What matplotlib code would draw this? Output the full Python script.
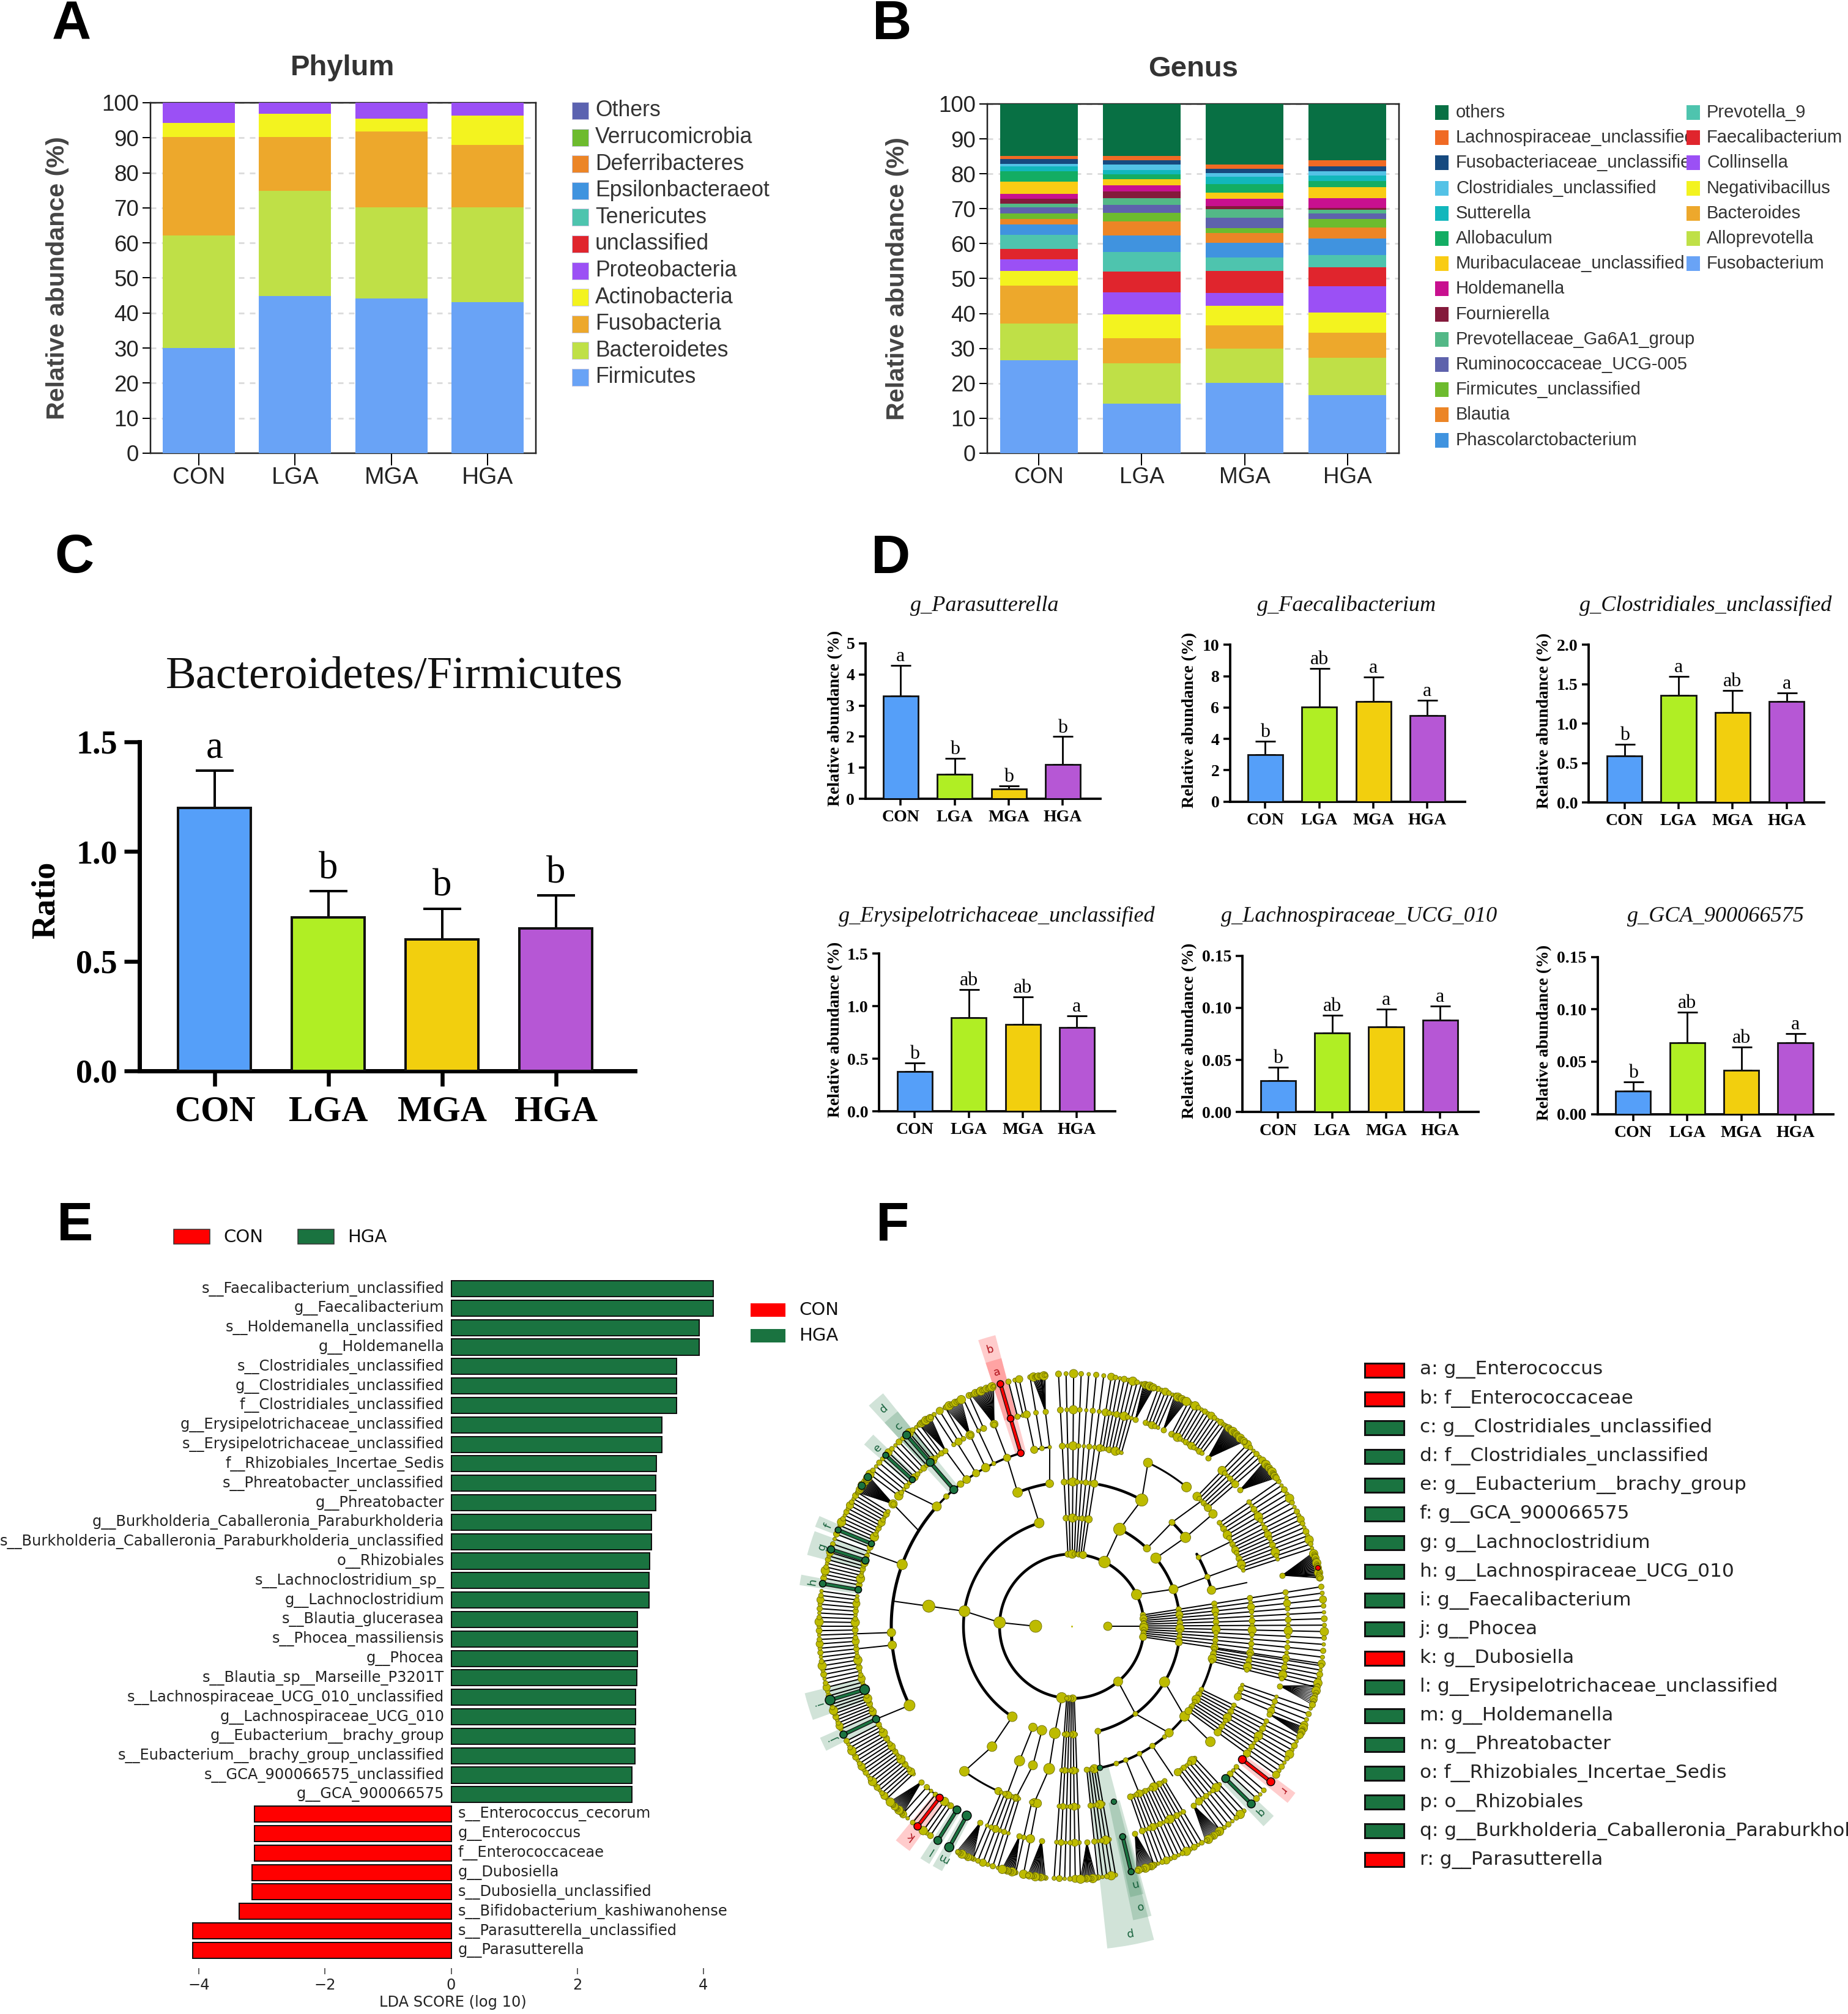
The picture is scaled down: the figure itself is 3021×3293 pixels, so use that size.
import numpy as np
import matplotlib
matplotlib.use("Agg")
import matplotlib.pyplot as plt
from matplotlib.patches import Rectangle
from matplotlib.transforms import Bbox

W, H = 3021, 3293
DPI = 100
PX = 72 / DPI
SANS = "Liberation Sans"
SERIF = "Liberation Serif"
DEJA = "DejaVu Sans"

groups = ["CON", "LGA", "MGA", "HGA"]

# ---------- Panel A
phylum_legend = ["Others", "Verrucomicrobia", "Deferribacteres", "Epsilonbacteraeot", "Tenericutes", "unclassified",
                 "Proteobacteria", "Actinobacteria", "Fusobacteria", "Bacteroidetes", "Firmicutes"]
phylum_colors = ["#5B62B0", "#6DBB2E", "#EC8526", "#4093DF", "#4EC4AE", "#E0252D",
                 "#9B50F5", "#F3F31F", "#EDA82C", "#BFE047", "#69A3F6"]
firmicutes = [30.1, 44.8, 44.2, 43.1]
bacteroidetes = [32.0, 30.0, 26.0, 27.0]
fusobacteria = [28.2, 15.4, 21.6, 17.8]
actinobacteria = [3.9, 6.6, 3.6, 8.4]
proteobacteria = [5.8, 3.2, 4.6, 3.7]

# ---------- Panel B
genus_left = ["others", "Lachnospiraceae_unclassified", "Fusobacteriaceae_unclassified", "Clostridiales_unclassified",
              "Sutterella", "Allobaculum", "Muribaculaceae_unclassified", "Holdemanella", "Fournierella",
              "Prevotellaceae_Ga6A1_group", "Ruminococcaceae_UCG-005", "Firmicutes_unclassified", "Blautia",
              "Phascolarctobacterium"]
genus_right = ["Prevotella_9", "Faecalibacterium", "Collinsella", "Negativibacillus", "Bacteroides",
               "Alloprevotella", "Fusobacterium"]
genus_left_colors = ["#087044", "#F06A24", "#164A7F", "#53C2E6", "#12B7BC", "#13AD63", "#F9CC14", "#C8108F", "#841A3B",
                     "#53B887", "#5E62AC", "#6DBB2E", "#EC8526", "#4093DF"]
genus_right_colors = ["#4EC4AE", "#E0252D", "#9B50F5", "#F3F31F", "#EDA82C", "#BFE047", "#69A3F6"]
tops_con = [26.6, 37.2, 48.0, 52.2, 55.5, 58.5, 62.5, 65.5, 67.1, 68.6, 70.4, 71.4, 72.9, 74.2, 77.8, 80.7, 82.2, 82.8, 84.2, 85.1, 100]
tops_lga = [14.2, 25.8, 32.9, 39.7, 46.0, 52.0, 57.7, 62.3, 66.3, 68.8, 71.1, 73.1, 75.0, 76.7, 78.4, 79.8, 81.1, 82.6, 83.9, 85.1, 100]
tops_mga = [20.1, 29.9, 36.6, 42.2, 45.8, 52.2, 56.1, 60.2, 63.0, 64.5, 67.5, 69.8, 70.8, 72.9, 74.6, 77.0, 79.2, 80.2, 81.5, 82.6, 100]
tops_hga = [16.6, 27.4, 34.5, 40.2, 47.8, 53.3, 56.8, 61.4, 64.6, 67.1, 68.7, 69.7, 70.2, 73.1, 76.1, 78.0, 79.5, 80.8, 82.1, 83.9, 100]

# ---------- Panel C
bar_colors = ["#559FF9", "#B0EE24", "#F2CF0E", "#B657D5"]
ratio_mean = [1.2, 0.7, 0.6, 0.65]
ratio_top = [1.37, 0.82, 0.74, 0.80]
ratio_sig = ["a", "b", "b", "b"]

# ---------- Panel D
d_titles = ["g_Parasutterella", "g_Faecalibacterium", "g_Clostridiales_unclassified",
            "g_Erysipelotrichaceae_unclassified", "g_Lachnospiraceae_UCG_010", "g_GCA_900066575"]
d_means = [[3.3, 0.8, 0.32, 1.1], [3.0, 6.05, 6.4, 5.5], [0.59, 1.36, 1.14, 1.28],
           [0.38, 0.89, 0.83, 0.80], [0.03, 0.076, 0.082, 0.088], [0.022, 0.068, 0.042, 0.068]]
d_tops = [[4.28, 1.3, 0.41, 2.0], [3.85, 8.5, 7.95, 6.45], [0.74, 1.6, 1.42, 1.39],
          [0.46, 1.16, 1.09, 0.91], [0.043, 0.093, 0.099, 0.102], [0.031, 0.097, 0.064, 0.077]]
d_sig = [["a", "b", "b", "b"], ["b", "ab", "a", "a"], ["b", "a", "ab", "a"],
         ["b", "ab", "ab", "a"], ["b", "ab", "a", "a"], ["b", "ab", "ab", "a"]]
d_ymax = [5, 10, 2.0, 1.5, 0.15, 0.15]
d_ticks = [[0, 1, 2, 3, 4, 5], [0, 2, 4, 6, 8, 10], [0, .5, 1, 1.5, 2], [0, .5, 1, 1.5], [0, .05, .10, .15], [0, .05, .10, .15]]
d_ticklabels = [["0", "1", "2", "3", "4", "5"], ["0", "2", "4", "6", "8", "10"], ["0.0", "0.5", "1.0", "1.5", "2.0"],
                ["0.0", "0.5", "1.0", "1.5"], ["0.00", "0.05", "0.10", "0.15"], ["0.00", "0.05", "0.10", "0.15"]]

# ---------- Panel E
lda_names = ["s__Faecalibacterium_unclassified", "g__Faecalibacterium", "s__Holdemanella_unclassified", "g__Holdemanella",
             "s__Clostridiales_unclassified", "g__Clostridiales_unclassified", "f__Clostridiales_unclassified",
             "g__Erysipelotrichaceae_unclassified", "s__Erysipelotrichaceae_unclassified", "f__Rhizobiales_Incertae_Sedis",
             "s__Phreatobacter_unclassified", "g__Phreatobacter", "g__Burkholderia_Caballeronia_Paraburkholderia",
             "s__Burkholderia_Caballeronia_Paraburkholderia_unclassified", "o__Rhizobiales", "s__Lachnoclostridium_sp_",
             "g__Lachnoclostridium", "s__Blautia_glucerasea", "s__Phocea_massiliensis", "g__Phocea",
             "s__Blautia_sp__Marseille_P3201T", "s__Lachnospiraceae_UCG_010_unclassified", "g__Lachnospiraceae_UCG_010",
             "g__Eubacterium__brachy_group", "s__Eubacterium__brachy_group_unclassified", "s__GCA_900066575_unclassified",
             "g__GCA_900066575", "s__Enterococcus_cecorum", "g__Enterococcus", "f__Enterococcaceae", "g__Dubosiella",
             "s__Dubosiella_unclassified", "s__Bifidobacterium_kashiwanohense", "s__Parasutterella_unclassified",
             "g__Parasutterella"]
lda_scores = [4.16, 4.16, 3.93, 3.93, 3.57, 3.57, 3.57, 3.34, 3.34, 3.25, 3.24, 3.24, 3.18, 3.18, 3.15, 3.14, 3.14,
              2.95, 2.95, 2.95, 2.94, 2.92, 2.92, 2.91, 2.91, 2.87, 2.87,
              -3.12, -3.12, -3.12, -3.16, -3.16, -3.36, -4.10, -4.10]
RED, GREEN = "#FF0000", "#1A7340"

# ---------- Panel F legend
clade_legend = ["a: g__Enterococcus", "b: f__Enterococcaceae", "c: g__Clostridiales_unclassified",
                "d: f__Clostridiales_unclassified", "e: g__Eubacterium__brachy_group", "f: g__GCA_900066575",
                "g: g__Lachnoclostridium", "h: g__Lachnospiraceae_UCG_010", "i: g__Faecalibacterium", "j: g__Phocea",
                "k: g__Dubosiella", "l: g__Erysipelotrichaceae_unclassified", "m: g__Holdemanella", "n: g__Phreatobacter",
                "o: f__Rhizobiales_Incertae_Sedis", "p: o__Rhizobiales", "q: g__Burkholderia_Caballeronia_Paraburkholderia",
                "r: g__Parasutterella"]
clade_is_red = [1, 1, 0, 0, 0, 0, 0, 0, 0, 0, 1, 0, 0, 0, 0, 0, 0, 1]

# ---------- Panel F tree (ring index, angle in degrees, dot diameter in px)
tree_nodes = [
    (1, 180, 20), (1, 0, 14),
    (2, 177, 19), (2, 0, 14), (2, 63, 19), (2, 26, 17), (2, -50, 15), (2, 262, 17),
    (3, 172, 18), (3, 107.5, 16), (3, 63.7, 20), (3, 46, 12), (3, 39, 17), (3, 20, 15), (3, -31, 17),
    (3, 236.7, 16), (3, 249, 14), (3, 254, 16), (3, 261, 18), (3, -54, 8), (3, -76, 10),
    (4, 172, 20), (4, 112, 16), (4, 98.8, 13), (4, 61, 20), (4, 46, 10), (4, 38, 17), (4, 28.5, 8), (4, 20, 9),
    (4, 14.5, 14), (4, 236.5, 16), (4, 248.8, 17), (4, 254.4, 15), (4, 261, 18), (4, -38.6, 16), (4, -47.6, 14),
    (4, -50, 7), (4, -56, 9), (4, -62, 8), (4, -68, 8), (4, -72, 8),
    (5, 160, 17), (5, 182, 14), (5, 186, 14), (5, 206, 18), (5, 138.4, 15), (5, 134, 9), (5, 128, 11), (5, 125.6, 13),
    (5, 122, 12), (5, 118.5, 14), (5, 115.6, 7), (5, 111, 12), (5, 233.5, 16), (5, -39.8, 16), (5, 65, 15), (5, 50.5, 16),
    (5, 38.5, 14), (5, 258, 14), (5, 252, 12), (5, 249, 12), (5, 246, 12),
    (6, 145.6, 14), (6, 111, 13), (6, 118, 14), (6, 115.5, 7),
]
tree_edges = [
    (1, 180, 2, 177), (1, 0, 2, 0), (2, 177, 3, 172), (3, 172, 4, 172), (4, 172, 5, 172),
    (3, 107.5, 4, 107.5), (4, 112, 5, 111), (4, 98.8, 5, 97), (2, 63, 3, 63.7), (3, 63.7, 4, 61), (4, 61, 5, 65),
    (3, 46, 4, 46), (3, 39, 4, 38), (2, 26, 3, 20), (3, 20, 4, 20), (2, -50, 3, -54), (3, -31, 4, -38.6),
    (3, -54, 4, -47.6), (3, -76, 4, -78.7), (4, -38.6, 5, -39.8), (2, 262, 3, 261), (3, 236.7, 4, 236.5),
    (4, 236.5, 5, 233.5), (3, 249, 4, 248.8), (3, 254, 4, 254.4), (3, 261, 4, 261),
    (4, 248.8, 5, 249), (4, 254.4, 5, 252), (4, 261, 5, 258), (4, 38, 5, 38.5), (4, 46, 5, 44), (4, 28.5, 5, 28),
    (4, 20, 5, 20), (4, 14.5, 5, 14), (4, -56, 5, -56), (4, -62, 5, -62), (4, -68, 5, -68),
    (5, 160, 6, 160), (5, 182, 6, 182), (5, 186, 6, 186), (5, 206, 6, 205.4), (5, 138.4, 6, 141), (5, 111, 6, 111),
    (5, 118.5, 6, 118), (5, 115.6, 6, 115.5), (5, 125.6, 6, 125.7), (5, 122, 6, 122),
    (6, 145.6, 5, 148),
]
tree_arcs = [  # ring, from, to, linewidth in px
    (2, 93, 262, 4.5), (2, 81, -97, 4.5), (3, 107.5, 236.7, 4.5), (3, 63.7, 46, 4.5), (3, 39, -31, 4.5), (3, -31, -76, 4.5),
    (4, 112, 98.8, 4.5), (4, 79, 61, 4.5), (4, 46, 38, 4.5), (4, 30, 14.5, 4.5), (4, -5, -38.6, 4), (4, -38.6, -78.7, 4),
    (5, 106.8, 138.4, 3.5), (5, 138.4, 206, 5), (5, 65, 50.5, 3), (5, 233.5, 245, 3),
]
# fixed-angle leaf groups: first angle, last angle, leaf count, inner ring
leaf_groups = [
    (104.5, 103, 2, 6), (102, 97, 3, 5), (93, 81, 8, 2), (80, 74, 7, 5), (70, 66.5, 5, 6), (62.5, 53, 12, 6),
    (46, 41, 6, 5), (35, 27, 8, 5), (26, 18, 9, 5), (9, -8.5, 13, 2), (-9, -14, 6, 4), (-19, -23, 4, 5), (-26, -36, 10, 4),
    (-40.5, -43, 3, 6), (-47, -54, 7, 5), (-59, -71, 13, 5), (-80, -84, 5, 4), (-88, -94, 6, 2), (259, 257.2, 2, 5),
    (253, 247, 6, 5), (236, 234, 3, 6), (231, 228, 3, 6), (223, 207, 20, 6), (204, 198, 9, 6), (196, 172, 25, 6),
    (169, 163, 8, 6), (161, 158.6, 3, 6), (156.5, 148, 11, 6), (143, 138.5, 5, 6), (136.5, 132, 5, 6), (130, 127, 4, 6),
    (123, 120, 3, 6), (115.5, 114, 2, 6),
]
# fans: parent angle on ring 6, first and last leaf angle, leaf count
leaf_fans = [
    (97, 99, 96, 14), (72.9, 73.5, 71, 14), (65, 66, 63, 14), (51, 52.5, 47, 26), (39, 40.5, 36, 22), (13.6, 17, 11, 28),
    (-16, -13.5, -18, 12), (-24, -23.5, -25.5, 10), (-55.8, -54, -58, 14), (-73, -71, -75, 14), (-86, -84.5, -88, 14),
    (262, 264, 260, 16), (256, 257, 254, 14), (245, 247, 243, 14), (226, 228, 224, 16), (145.6, 148, 143.5, 22),
    (125.7, 127, 124, 14), (118, 120, 116, 14), (111, 113.5, 108, 22),
]
leaf_sizes = [9, 7, 12, 8, 6, 10, 7, 14, 8, 6]
# clades: letter, angle, inner ring, label radius, wedge half width, colour
clades = [
    ("a", 106.4, 6, 433, 1.7, RED), ("b", 106.4, 5, 472, 1.7, RED), ("c", 130.8, 6, 432, 1.8, GREEN), ("d", 130.8, 5, 470, 1.8, GREEN),
    ("e", 137.4, 6, 431, 1.4, GREEN), ("f", 157.6, 6, 430, 1.2, GREEN), ("g", 162.3, 6, 428, 2.6, GREEN),
    ("h", 170.3, 6, 430, 1.1, GREEN), ("i", 197, 6, 430, 2.9, GREEN), ("j", 205.4, 6, 430, 1.5, GREEN),
    ("k", 232.4, 6, 433, 1.8, RED), ("l", 238, 6, 433, 1.1, GREEN), ("m", 241, 6, 433, 1.1, GREEN),
    ("n", -76.4, 6, 433, 1.4, GREEN), ("o", -76.4, 5, 471, 1.8, GREEN), ("p", -79.5, 4, 510, 4.2, GREEN),
    ("q", -44.7, 6, 433, 1.5, GREEN), ("r", -38, 6, 436, 1.3, RED),
]
RING = 59
LEAF_YELLOW = "#BDBB00"


def axpx(x0, y0, x1, y1, **kw):
    return fig.add_axes([x0 / W, 1 - y1 / H, (x1 - x0) / W, (y1 - y0) / H], **kw)


def txt(x, y, s, **kw):
    return fig.text(x / W, 1 - y / H, s, **kw)


def lw(px):
    return px * PX


fig = plt.figure(figsize=(W / DPI, H / DPI), dpi=DPI, facecolor="white")

for letter, lx, ly in [("A", 85, 64), ("B", 1426, 64), ("C", 89, 936), ("D", 1424, 937), ("E", 93, 2028), ("F", 1432, 2028)]:
    txt(lx, ly, letter, family=SANS, weight="bold", fontsize=64, color="black", va="baseline", ha="left")


def stacked(ax, heights, colors, barw, xsize):
    x = np.arange(4)
    bottom = np.zeros(4)
    for h, c in zip(heights, colors):
        ax.bar(x, h, bottom=bottom, width=barw, color=c, zorder=3, linewidth=0)
        bottom += np.array(h)
    ax.set_xlim(-0.5, 3.5)
    ax.set_ylim(0, 100)
    ax.set_xticks(x, groups)
    ax.set_yticks(range(0, 101, 10))
    ax.yaxis.grid(True, color="#DDDDDD", lw=lw(3), ls=(0, (3, 3)), zorder=0)
    ax.set_axisbelow(True)
    ax.tick_params(axis="y", length=13 * PX, width=lw(2), labelsize=26.5, pad=4.5, labelcolor="#222222")
    ax.tick_params(axis="x", length=20 * PX, width=lw(2), labelsize=xsize, pad=1.5, labelcolor="#222222")
    for l in ax.get_xticklabels() + ax.get_yticklabels():
        l.set_family(SANS)
    for s in ax.spines.values():
        s.set_linewidth(lw(2.5))
        s.set_color("#222222")
    ax.set_ylabel("Relative abundance (%)", family=SANS, weight="bold", fontsize=29.7, color="#444444")


# Panel A
axA = axpx(246, 168, 876, 741)
stacked(axA, [firmicutes, bacteroidetes, fusobacteria, actinobacteria, proteobacteria], phylum_colors[:-6:-1], 0.75, 28)
axA.yaxis.set_label_coords((113 - 246) / 630, 0.5)
txt(560, 111, "Phylum", family=SANS, weight="bold", fontsize=34, color="#333333", ha="center", va="center")
for i, (name, c) in enumerate(zip(phylum_legend, phylum_colors)):
    yc = 181 + i * 43.6
    fig.patches.append(Rectangle((935 / W, 1 - (yc + 14) / H), 27 / W, 28 / H, transform=fig.transFigure, facecolor=c, edgecolor="#C8C8E0", lw=lw(1)))
    txt(973, yc, name, family=SANS, fontsize=25.7, color="#333333", va="center")

# Panel B
axB = axpx(1614, 170, 2287, 741)
genus_tops = np.array([tops_con, tops_lga, tops_mga, tops_hga])
genus_heights = np.diff(np.hstack([np.zeros((4, 1)), genus_tops]), axis=1).T
genus_stack_colors = genus_right_colors[::-1] + genus_left_colors[::-1]
stacked(axB, genus_heights, genus_stack_colors, 0.755, 26.5)
axB.yaxis.set_label_coords((1486 - 1614) / 673, 0.5)
txt(1951, 113, "Genus", family=SANS, weight="bold", fontsize=34, color="#333333", ha="center", va="center")
for i, (name, c) in enumerate(zip(genus_left, genus_left_colors)):
    yc = 184 + i * 41.2
    t = txt(2380, yc, name, family=SANS, fontsize=21, color="#333333", va="center")
    if i < len(genus_right):
        t.set_clip_on(True)
        t.set_clip_box(Bbox([[2346, 0], [2757, H]]))
    fig.patches.append(Rectangle((2346 / W, 1 - (yc + 12) / H), 22 / W, 24 / H, transform=fig.transFigure, facecolor=c, edgecolor="none"))
for i, (name, c) in enumerate(zip(genus_right, genus_right_colors)):
    yc = 184 + i * 41.2
    txt(2790, yc, name, family=SANS, fontsize=21, color="#333333", va="center")
    fig.patches.append(Rectangle((2757 / W, 1 - (yc + 12) / H), 22 / W, 24 / H, transform=fig.transFigure, facecolor=c, edgecolor="none"))


def bars(ax, means, tops, sig, edge, cap, barw, sigsize, sigoff):
    x = np.arange(4)
    means = np.array(means)
    tops = np.array(tops)
    ax.bar(x, means, width=barw, color=bar_colors, edgecolor="#111111", linewidth=edge, zorder=3)
    ax.errorbar(x, means, yerr=[np.zeros(4), tops - means], fmt="none", ecolor="black", elinewidth=edge, capsize=cap,
                capthick=edge, zorder=2)
    for xi, t, s in zip(x, tops, sig):
        ax.annotate(s, (xi, t), xytext=(0, sigoff), textcoords="offset points", ha="center", va="baseline",
                    family=SERIF, fontsize=sigsize, color="black")
    ax.spines["top"].set_visible(False)
    ax.spines["right"].set_visible(False)


# Panel C
axC = axpx(228, 1213, 1038, 1751)
bars(axC, ratio_mean, ratio_top, ratio_sig, lw(4), 31 * PX, 0.64, 45, 15)
axC.set_xlim(-0.661, 3.694)
axC.set_ylim(0, 1.5)
axC.set_yticks([0, .5, 1, 1.5], ["0.0", "0.5", "1.0", "1.5"])
axC.set_xticks(range(4), groups)
axC.tick_params(length=18, width=lw(6.5), labelsize=39, pad=8)
axC.tick_params(axis="x", labelsize=43, pad=11)
for l in axC.get_xticklabels() + axC.get_yticklabels():
    l.set_family(SERIF)
    l.set_weight("bold")
for s in ["left", "bottom"]:
    axC.spines[s].set_linewidth(lw(7))
txt(76, 1472, "Ratio", family=SERIF, weight="bold", fontsize=39, rotation=90, ha="center", va="center")
txt(645, 1107, "Bacteroidetes/Firmicutes", family=SERIF, fontsize=53.8, ha="center", va="center", color="#111111")

# Panel D  (all positions from zoom space)
zx = lambda v: 1300 + v / 0.911
zy = lambda v: 880 + v / 1.56
d_boxes = [(105, 455, 268, 665, 157), (648, 998, 272, 672, 700), (1182, 1532, 272, 674, 1235),
           (125, 476, 1060, 1462, 178), (666, 1018, 1065, 1464, 719), (1195, 1546, 1068, 1469, 1248)]
d_title_xy = [(282, 172), (821, 172), (1356, 172), (300, 965), (840, 965), (1371, 965)]
for k in range(6):
    x0, x1, y1, y0, c0 = d_boxes[k]
    ax = axpx(zx(x0), zy(y1), zx(x1), zy(y0))
    bars(ax, d_means[k], d_tops[k], d_sig[k], lw(2.8), 16.5 * PX, 0.646, 23, 5)
    ax.set_xlim(-(c0 - x0) / 80.5, (x1 - c0) / 80.5)
    ax.set_ylim(0, d_ymax[k])
    ax.set_yticks(d_ticks[k], d_ticklabels[k])
    ax.set_xticks(range(4), groups)
    ax.tick_params(length=8, width=lw(3.5), labelsize=20, pad=5)
    for l in ax.get_xticklabels() + ax.get_yticklabels():
        l.set_family(SERIF)
        l.set_weight("bold")
    for s in ["left", "bottom"]:
        ax.spines[s].set_linewidth(lw(3.8))
    ax.set_ylabel("Relative abundance (%)", family=SERIF, weight="bold", fontsize=20)
    lab_x = 71 if k in (0, 3) else (599 if k in (1, 4) else 1127)
    ax.yaxis.set_label_coords((zx(lab_x) - zx(x0)) / (zx(x1) - zx(x0)), 0.52)
    tx, ty = d_title_xy[k]
    txt(zx(tx), zy(ty), d_titles[k], family=SERIF, style="italic", fontsize=26, ha="center", va="center", color="#111111")

# Panel E
x_zero, x_unit = 737.5, 103.1
row0, row_step = 2107, 31.82
axE = axpx(300, 2085, 1180, 3218)
axE.set_xlim((300 - x_zero) / x_unit, (1180 - x_zero) / x_unit)
axE.set_ylim((3218 - row0) / row_step, (2085 - row0) / row_step)
axE.patch.set_alpha(0)
for i, (n, v) in enumerate(zip(lda_names, lda_scores)):
    axE.barh(i, v, height=0.82, color=GREEN if v > 0 else RED, edgecolor="#101010", linewidth=lw(2))
    if v > 0:
        axE.text(-0.11, i, n, ha="right", va="center", family=DEJA, fontsize=17.4, color="#222222")
    else:
        axE.text(0.11, i, n, ha="left", va="center", family=DEJA, fontsize=17.4, color="#222222")
for s in axE.spines.values():
    s.set_visible(False)
axE.set_yticks([])
axE.set_xticks([-4, -2, 0, 2, 4])
axE.tick_params(axis="x", length=10 * PX, width=lw(1.5), labelsize=17.4, pad=4, labelcolor="#222222", color="#333333")
axE.set_xlabel("LDA SCORE (log 10)", fontsize=17.4, labelpad=3, color="#222222")
for px0, lab, c in [(284, "CON", RED), (487, "HGA", GREEN)]:
    fig.patches.append(Rectangle((px0 / W, 1 - 2034 / H), 59 / W, 24 / H, transform=fig.transFigure, facecolor=c, edgecolor="#333333", lw=lw(1.5)))
    txt(px0 + 81, 2023, lab, family=DEJA, fontsize=21, va="center", color="#111111")
for yc, lab, c in [(2142, "CON", RED), (2184, "HGA", GREEN)]:
    fig.patches.append(Rectangle((1227 / W, 1 - (yc + 11) / H), 57 / W, 22 / H, transform=fig.transFigure, facecolor=c, edgecolor="none"))
    txt(1306, yc, lab, family=DEJA, fontsize=21, va="center", color="#111111")

# Panel F legend
for i, (name, red) in enumerate(zip(clade_legend, clade_is_red)):
    yc = 2240 + i * 47.1
    fig.patches.append(Rectangle((2231 / W, 1 - (yc + 11.5) / H), 64 / W, 23 / H, transform=fig.transFigure,
                                 facecolor=RED if red else GREEN, edgecolor="#111111", lw=lw(3)))
    txt(2321, yc, name, family=DEJA, fontsize=22.4, va="center", color="#222222")

# Panel F cladogram
cx, cy, rmax = 1752, 2659, 560
axF = axpx(cx - rmax, cy - rmax, cx + rmax, cy + rmax, projection="polar")
axF.set_axis_off()
axF.set_rlim(0, rmax)
axF.patch.set_alpha(0)
th = np.deg2rad


def dots(rings, angles, sizes, face=LEAF_YELLOW, edge="#6A6A00", ew=0.6, z=4):
    axF.scatter(th(np.array(angles)), np.array(rings) * RING, s=(np.array(sizes) * PX) ** 2, c=face,
                edgecolors=edge, linewidths=ew, zorder=z, clip_on=False)


def seg(r0, a0, r1, a1, width=2.0, color="#000000", z=2):
    axF.plot(th(np.array([a0, a1])), [r0 * RING, r1 * RING], color=color, lw=lw(width), zorder=z, solid_capstyle="round")


def arc(ring, a0, a1, width):
    t = np.linspace(a0, a1, 120)
    axF.plot(th(t), np.full(t.shape, ring * RING), color="black", lw=lw(width), zorder=2, solid_capstyle="round")


# wedges behind labels
for letter, ang, ring, rl, hw, col in clades:
    rout = rl + 20
    axF.bar(th(ang), rout - ring * RING, width=th(2 * hw), bottom=ring * RING, color=col, alpha=0.2, lw=0, zorder=1)
    axF.text(th(ang), rl, letter, rotation=ang - 90, rotation_mode="anchor", ha="center", va="center",
             fontsize=13, family=DEJA, color="#14603A" if col == GREEN else "#B0101A", zorder=6)

for r0, a0, r1, a1 in tree_edges:
    seg(r0, a0, r1, a1)
for ring, a0, a1, wd in tree_arcs:
    arc(ring, a0, a1, wd)
rr, aa, ss = zip(*tree_nodes)
dots(rr, aa, ss)
dots([0], [0], [3], ew=0)

k = 0
for a0, a1, n, ring in leaf_groups:
    angs = np.linspace(a0, a1, n)
    for a in angs:
        seg(ring, a, 7, a)
        size = leaf_sizes[k % len(leaf_sizes)]
        k += 1
        rs = list(range(ring, 8))
        dots(rs, [a] * len(rs), [size] * len(rs))
    if ring > 2 and n > 1:
        arc(ring, a0, a1, 2.5)
for parent, a0, a1, n in leaf_fans:
    angs = np.linspace(a0, a1, n)
    for a in angs:
        seg(6, parent, 7, a, width=1.2)
        dots([7], [a], [leaf_sizes[k % len(leaf_sizes)]])
        k += 1
    dots([6], [parent], [9])

# highlighted clades: thick edges and coloured nodes
for ang, r0, col, big in [(106.4, 5, RED, 11), (130.8, 5, GREEN, 13), (137.4, 6, GREEN, 10), (157.6, 6, GREEN, 10),
                          (162.3, 6, GREEN, 12), (170.3, 6, GREEN, 11), (197, 6, GREEN, 16), (205.4, 6, GREEN, 12),
                          (232.4, 6, RED, 12), (238, 6, GREEN, 13), (241, 6, GREEN, 15), (-76.4, 6, GREEN, 10),
                          (-44.7, 6, GREEN, 13), (-38, 6, RED, 13)]:
    seg(r0, ang, 7, ang, width=6.5, color="#111111", z=5)
    seg(r0, ang, 7, ang, width=4, color=col, z=6)
    rs = list(range(r0, 8))
    dots(rs, [ang] * len(rs), [big] * len(rs), face=col, edge="black", ew=lw(1.5), z=7)
dots([7], [13.5], [8], face=RED, edge="black", ew=lw(1.2), z=7)
dots([4, 5], [-78.7, -76.5], [9, 9], face=GREEN, edge="black", ew=lw(1.2), z=7)
dots([7, 7], [146.2, 143.8], [12, 12], face=GREEN, edge="black", ew=lw(1.2), z=7)

fig.savefig("out.png", dpi=DPI, facecolor="white")
